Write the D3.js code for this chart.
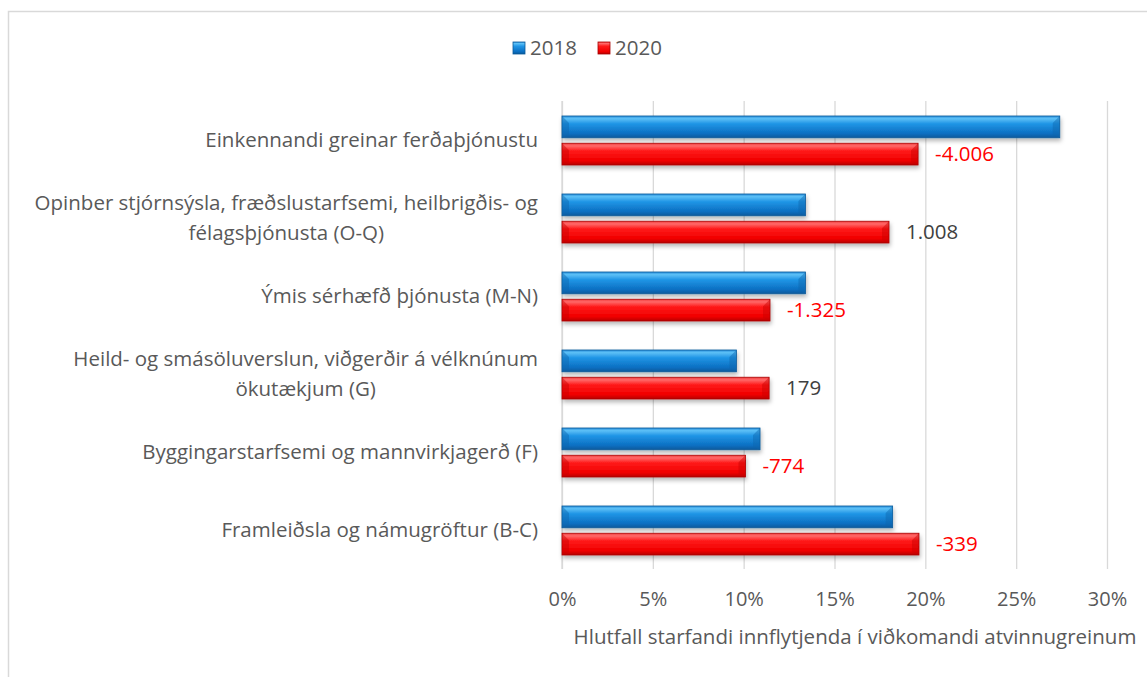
<!DOCTYPE html>
<html>
<head>
<meta charset="utf-8">
<script src="https://cdn.jsdelivr.net/npm/d3@7"></script>
<style>
  body { margin: 0; background: #fff; }
  text { font-family: "Open Sans", "Noto Sans", sans-serif; }
</style>
</head>
<body>
<div id="chart"></div>
<script>
// Categories (top to bottom), each as lines of the wrapped label
const categories = [
  ["Einkennandi greinar ferðaþjónustu"],
  ["Opinber stjórnsýsla, fræðslustarfsemi, heilbrigðis- og", "félagsþjónusta (O-Q)"],
  ["Ýmis sérhæfð þjónusta (M-N)"],
  ["Heild- og smásöluverslun, viðgerðir á vélknúnum", "ökutækjum (G)"],
  ["Byggingarstarfsemi og mannvirkjagerð (F)"],
  ["Framleiðsla og námugröftur (B-C)"]
];
const seriesNames = ["2018", "2020"];
const values2018 = [27.4, 13.4, 13.4, 9.6, 10.9, 18.2];
const values2020 = [19.6, 18.0, 11.45, 11.4, 10.1, 19.65];
const changeLabels = ["-4.006", "1.008", "-1.325", "179", "-774", "-339"];
const xTicks = [0, 5, 10, 15, 20, 25, 30];
const axisTitle = "Hlutfall starfandi innflytjenda í viðkomandi atvinnugreinum";

const width = 1147, height = 677;
const margin = { top: 101, left: 562, right: 40, bottom: 108 };
const plotW = 1107 - margin.left;
const plotH = 569 - margin.top;

const svg = d3.select("#chart").append("svg")
    .attr("width", width)
    .attr("height", height);

const defs = svg.append("defs");
function grad(id, stops) {
  const g = defs.append("linearGradient").attr("id", id)
      .attr("x1", 0).attr("y1", 0).attr("x2", 0).attr("y2", 1);
  stops.forEach(s => g.append("stop").attr("offset", s[0]).attr("stop-color", s[1]));
}
grad("gBlue", [[0, "#2a8fdc"], [0.12, "#5cc0f6"], [0.35, "#2196e6"], [0.8, "#0b6fc2"], [1, "#085a9c"]]);
grad("gRed", [[0, "#f23a3a"], [0.12, "#ff6a6a"], [0.35, "#ff1a1a"], [0.8, "#f00000"], [1, "#b80000"]]);
const shadow = defs.append("filter").attr("id", "shadow")
    .attr("x", "-5%").attr("y", "-30%").attr("width", "110%").attr("height", "170%");
shadow.append("feDropShadow").attr("dx", 1).attr("dy", 3).attr("stdDeviation", 2)
    .attr("flood-color", "#000").attr("flood-opacity", 0.28);

// outer chart frame
svg.append("rect")
    .attr("x", 8.5).attr("y", 11.5).attr("width", 1300).attr("height", 800)
    .attr("fill", "none").attr("stroke", "#d9d9d9").attr("stroke-width", 1.5);

const x = d3.scaleLinear().domain([0, 30]).range([0, plotW]);
const y0 = d3.scaleBand().domain(d3.range(categories.length)).range([0, plotH]);
const y1 = d3.scaleBand().domain(seriesNames).range([15, 64]).paddingInner(0.2);

const g = svg.append("g").attr("transform", `translate(${margin.left},${margin.top})`);

// gridlines + tick labels
const xAxis = d3.axisBottom(x).tickValues(xTicks).tickFormat(d => d + "%").tickSize(plotH).tickPadding(23);
const gx = g.append("g").call(xAxis);
gx.select(".domain").remove();
gx.selectAll(".tick line").attr("stroke", "#d9d9d9").attr("stroke-width", 1.3);
gx.selectAll(".tick text").attr("fill", "#595959").style("font-size", "20px");

// left axis line
g.append("line").attr("x1", 0).attr("x2", 0).attr("y1", 0).attr("y2", plotH)
    .attr("stroke", "#d9d9d9").attr("stroke-width", 1.3);

const rows = categories.map((c, i) => ({ i, vals: [values2018[i], values2020[i]] }));
const groups = g.selectAll(".grp").data(rows).join("g")
    .attr("transform", d => `translate(0,${y0(d.i)})`);

groups.selectAll("rect").data(d => d.vals.map((v, k) => ({ v, k })))
  .join("rect")
    .attr("x", 0)
    .attr("y", d => y1(seriesNames[d.k]))
    .attr("width", d => x(d.v))
    .attr("height", y1.bandwidth())
    .attr("fill", d => d.k === 0 ? "url(#gBlue)" : "url(#gRed)")
    .attr("stroke", d => d.k === 0 ? "#0a5a9a" : "#a80000")
    .attr("stroke-width", 0.8)
    .attr("filter", "url(#shadow)");

// bevel highlights at bar ends
groups.selectAll("path.bevel").data(d => d.vals.map((v, k) => ({ v, k })))
  .join("path")
    .attr("class", "bevel")
    .attr("d", d => {
      const yy = y1(seriesNames[d.k]), h = y1.bandwidth(), w = x(d.v), b = 7;
      return `M0,${yy} L${b},${yy + b} L${b},${yy + h - 3} L0,${yy + h} Z M${w},${yy} L${w - b},${yy + b} L${w - b},${yy + h - 3} L${w},${yy + h} Z`;
    })
    .attr("fill", d => d.k === 0 ? "#0d65ad" : "#c80000")
    .attr("opacity", 0.45);

// data labels next to 2020 bars
groups.append("text")
    .attr("x", d => x(d.vals[1]) + 17)
    .attr("y", d => y1("2020") + y1.bandwidth() / 2)
    .attr("dy", "0.35em")
    .attr("fill", d => changeLabels[d.i].startsWith("-") ? "#ff0000" : "#404040")
    .style("font-size", "20.5px")
    .text(d => changeLabels[d.i]);

// category labels, wrapped lines centered within a right-aligned block
const labelRight = margin.left - 24;
categories.forEach((lines, i) => {
  const t = svg.append("text").attr("fill", "#595959").style("font-size", "20.5px");
  const cy = margin.top + y0(i) + y0.bandwidth() / 2;
  const lh = 30;
  lines.forEach((ln, k) => {
    t.append("tspan").attr("y", cy + (k - (lines.length - 1) / 2) * lh).attr("dy", "0.35em").text(ln);
  });
  const spans = t.selectAll("tspan").nodes();
  const maxW = d3.max(spans, s => s.getComputedTextLength());
  spans.forEach(s => {
    d3.select(s).attr("x", labelRight - maxW / 2).attr("text-anchor", "middle");
  });
});

// axis title
svg.append("text")
    .attr("x", 855).attr("y", 637).attr("dy", "0.35em")
    .attr("text-anchor", "middle").attr("fill", "#595959")
    .style("font-size", "20.5px")
    .text(axisTitle);

// legend
const legend = svg.append("g").attr("transform", "translate(513,48)");
const legX = [0, 85];
seriesNames.forEach((s, k) => {
  const lg = legend.append("g").attr("transform", `translate(${legX[k]},0)`);
  lg.append("rect").attr("x", 0).attr("y", -6).attr("width", 12).attr("height", 12)
      .attr("fill", k === 0 ? "url(#gBlue)" : "url(#gRed)")
      .attr("stroke", k === 0 ? "#0a5a9a" : "#a80000").attr("stroke-width", 0.8);
  lg.append("text").attr("x", 17).attr("y", 0).attr("dy", "0.35em")
      .attr("fill", "#595959").style("font-size", "20.5px").text(s);
});
</script>
</body>
</html>
